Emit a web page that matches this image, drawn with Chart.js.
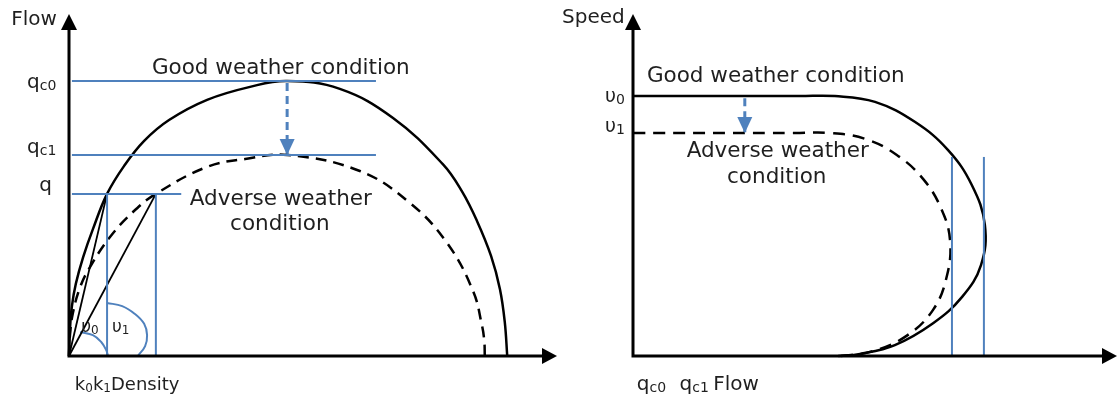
<!DOCTYPE html>
<html>
<head>
<meta charset="utf-8">
<script src="https://cdn.jsdelivr.net/npm/chart.js@4/dist/chart.umd.min.js"></script>
<style>
    html, body { margin: 0; padding: 0; background: #fff; }
    #wrap { position: relative; width: 1119px; height: 398px; }
    canvas { position: absolute; top: 0; }
</style>
</head>
<body>
<div id="wrap">
    <canvas id="flow-density-chart" width="560" height="398" style="left:0"></canvas>
    <canvas id="speed-flow-chart" width="559" height="398" style="left:560px"></canvas>
</div>
<script>
// flow - density diagram (values in % of axis length)
const flowLevels = [80.4, 58.8, 47.4]          // qc0, qc1, q
const flowLevelEnds = [62.9, 62.9, 23.0]
const densityLevels = [7.8, 17.8]              // k0, k1

const goodDensity = [0, 0.2, 0.6, 1.4, 2.9, 4.9, 7.8, 11.3, 15.4, 20.5, 28.3, 37.1, 44.7, 55.5, 66.4, 76.6, 80.5, 83.6, 86.5, 88.3, 89.3, 89.8]
const goodFlow = [0, 7.9, 14.6, 21.1, 28.9, 37.1, 47.4, 55.6, 62.9, 69.0, 74.9, 78.7, 80.4, 78.1, 69.6, 56.1, 48.2, 39.5, 29.2, 19.6, 9.9, 0]

const adverseDensity = [0, 0.2, 0.8, 2.3, 4.3, 8.4, 13.1, 17.8, 28.3, 36.1, 44.7, 59.6, 69.9, 77.5, 82.8, 84.6, 85.1, 85.2]
const adverseFlow = [0, 6.1, 12.6, 20.2, 26.0, 34.8, 42.1, 47.4, 55.3, 57.6, 58.8, 54.1, 44.7, 33.0, 19.0, 9.1, 4.4, 0]

const angle0Density = [2.3, 4.9, 6.6, 7.6, 8.0]
const angle0Flow = [7.0, 6.1, 4.1, 1.8, 0]
const angle1Density = [7.8, 10.9, 13.5, 15.4, 16.0, 15.6, 14.1]
const angle1Flow = [15.5, 14.6, 12.3, 9.4, 6.1, 2.9, 0]

const dropDensity = 44.7

// speed - flow diagram
const speedLevels = [76.0, 65.2]               // u0, u1
const capacityFlows = [65.9, 72.5]
const capacityTop = 58.2

const goodSpeedFlow = [0, 34.5, 41.7, 50.0, 58.3, 65.1, 70.0, 72.7, 71.9, 68.0, 62.0, 54.1, 46.9, 42.4]
const goodSpeed = [76.0, 76.0, 76.0, 74.3, 68.4, 60.2, 50.0, 38.3, 26.6, 17.3, 9.6, 3.2, 0.6, 0]

const adverseSpeedFlow = [0, 33.5, 40.7, 47.9, 54.5, 60.1, 63.8, 65.5, 64.9, 62.0, 56.2, 49.0, 42.8]
const adverseSpeed = [65.2, 65.2, 65.2, 63.5, 58.8, 51.5, 42.7, 33.9, 23.7, 13.5, 5.6, 1.2, 0]

const dropFlow = 23.1

const BLUE = '#4f81bd'
const TEXT = '#1f1f1f'
const FONT = "'DejaVu Sans'"

const points = (xs, ys) => xs.map((v, i) => ({ x: v, y: ys[i] }))

const lineSet = (xs, ys, style) => ({
    data: points(xs, ys),
    clip: false,
    fill: false,
    pointRadius: 0,
    tension: 0,
    borderCapStyle: 'butt',
    ...style
})

const blueLine = { borderColor: BLUE, borderWidth: 2 }
const solidCurve = { borderColor: '#000', borderWidth: 2.5, tension: 0.4 }
const dashedCurve = { borderColor: '#000', borderWidth: 2.5, tension: 0.4, borderDash: [11, 7] }
const dropArrow = { borderColor: BLUE, backgroundColor: BLUE, borderWidth: 3, borderDash: [8, 5], arrowHead: true }

const drawParts = (ctx, parts, x, y, size, subSize, align) => {
    const widths = parts.map(([text, sub]) => {
        ctx.font = `${sub ? subSize : size}px ${FONT}`
        return ctx.measureText(text).width
    })
    const total = widths.reduce((t, w) => t + w, 0)
    let left = align === 'center' ? x - total / 2 : align === 'right' ? x - total : x

    parts.forEach(([text, sub], i) => {
        ctx.font = `${sub ? subSize : size}px ${FONT}`
        ctx.fillText(text, left, sub ? y + 2 : y)
        left += widths[i]
    })
}

const sketchPlugin = {
    id: 'sketch',
    afterDatasetsDraw(chart, args, opts) {
        const { ctx, chartArea: { left, right, top, bottom }, scales: { x, y } } = chart
        ctx.save()

        // axes with arrow heads
        ctx.strokeStyle = '#000'
        ctx.fillStyle = '#000'
        ctx.lineWidth = 3
        ctx.setLineDash([])
        ctx.beginPath()
        ctx.moveTo(left, top + 14)
        ctx.lineTo(left, bottom)
        ctx.lineTo(right - 14, bottom)
        ctx.stroke()

        ctx.beginPath()
        ctx.moveTo(left, top)
        ctx.lineTo(left - 8, top + 16)
        ctx.lineTo(left + 8, top + 16)
        ctx.closePath()
        ctx.fill()

        ctx.beginPath()
        ctx.moveTo(right, bottom)
        ctx.lineTo(right - 15, bottom - 8)
        ctx.lineTo(right - 15, bottom + 8)
        ctx.closePath()
        ctx.fill()

        // arrow heads at the end of flagged datasets
        chart.data.datasets.forEach((ds, i) => {
            if (!ds.arrowHead) {
                return
            }
            const pts = chart.getDatasetMeta(i).data
            const a = pts[pts.length - 2]
            const b = pts[pts.length - 1]
            const ang = Math.atan2(b.y - a.y, b.x - a.x)
            ctx.fillStyle = ds.borderColor
            ctx.beginPath()
            ctx.moveTo(b.x, b.y)
            ctx.lineTo(b.x - 16 * Math.cos(ang) + 7.5 * Math.sin(ang), b.y - 16 * Math.sin(ang) - 7.5 * Math.cos(ang))
            ctx.lineTo(b.x - 16 * Math.cos(ang) - 7.5 * Math.sin(ang), b.y - 16 * Math.sin(ang) + 7.5 * Math.cos(ang))
            ctx.closePath()
            ctx.fill()
        })

        // texts
        ctx.fillStyle = TEXT
        ctx.textBaseline = 'alphabetic'
        opts.labels.forEach(l => drawParts(ctx, l.parts, x.getPixelForValue(l.x), y.getPixelForValue(l.y), l.size, l.subSize || 14, l.align))

        ctx.restore()
    }
}

const getDiagram = (selector, padding, datasets, labels) => new Chart(document.querySelector(`#${selector}-chart`), {
    type: 'line',
    data: { datasets },
    options: {
        responsive: false,
        animation: false,
        events: [],
        layout: { padding },
        plugins: {
            legend: { display: false },
            tooltip: { enabled: false },
            sketch: { labels }
        },
        scales: {
            x: { type: 'linear', min: 0, max: 100, display: false },
            y: { type: 'linear', min: 0, max: 100, display: false }
        }
    },
    plugins: [sketchPlugin]
})

const flowDensityDatasets = [
    ...flowLevels.map((q, i) => lineSet([0.6, flowLevelEnds[i]], [q, q], blueLine)),
    ...densityLevels.map(k => lineSet([k, k], [0, flowLevels[2]], blueLine)),
    lineSet(goodDensity, goodFlow, solidCurve),
    lineSet(adverseDensity, adverseFlow, dashedCurve),
    ...densityLevels.map(k => lineSet([0, k], [0, flowLevels[2]], { borderColor: '#000', borderWidth: 1.8 })),
    lineSet(angle0Density, angle0Flow, { ...blueLine, tension: 0.4 }),
    lineSet(angle1Density, angle1Flow, { ...blueLine, tension: 0.4 }),
    lineSet([dropDensity, dropDensity], [flowLevels[0] - 0.6, flowLevels[1]], dropArrow)
]

const flowDensityLabels = [
    { x: -2.5, y: 96.8, parts: [['Flow', 0]], size: 20, align: 'right' },
    { x: -8.6, y: 78.4, parts: [['q', 0], ['c0', 1]], size: 20 },
    { x: -8.6, y: 59.4, parts: [['q', 0], ['c1', 1]], size: 20 },
    { x: -6.1, y: 48.2, parts: [['q', 0]], size: 20 },
    { x: 1.2, y: -9.9, parts: [['k', 0], ['0', 1], ['k', 0], ['1', 1], ['Density', 0]], size: 18, subSize: 12 },
    { x: 2.5, y: 7.0, parts: [['υ', 0], ['0', 1]], size: 17, subSize: 12 },
    { x: 8.8, y: 7.0, parts: [['υ', 0], ['1', 1]], size: 17, subSize: 12 },
    { x: 43.4, y: 82.5, parts: [['Good weather condition', 0]], size: 21.5, align: 'center' },
    { x: 43.4, y: 44.2, parts: [['Adverse weather', 0]], size: 21.5, align: 'center' },
    { x: 43.2, y: 36.8, parts: [['condition', 0]], size: 21.5, align: 'center' }
]

const speedFlowDatasets = [
    ...capacityFlows.map(q => lineSet([q, q], [0, capacityTop], blueLine)),
    lineSet(goodSpeedFlow, goodSpeed, solidCurve),
    lineSet(adverseSpeedFlow, adverseSpeed, { ...dashedCurve, borderDash: [12, 8] }),
    lineSet([dropFlow, dropFlow], [speedLevels[0] - 0.6, speedLevels[1]], dropArrow)
]

const speedFlowLabels = [
    { x: -1.7, y: 97.4, parts: [['Speed', 0]], size: 20, align: 'right' },
    { x: -5.8, y: 74.3, parts: [['υ', 0], ['0', 1]], size: 19 },
    { x: -5.8, y: 65.5, parts: [['υ', 0], ['1', 1]], size: 19 },
    { x: 29.5, y: 80.1, parts: [['Good weather condition', 0]], size: 21.5, align: 'center' },
    { x: 29.9, y: 58.2, parts: [['Adverse weather', 0]], size: 21.5, align: 'center' },
    { x: 29.7, y: 50.6, parts: [['condition', 0]], size: 21.5, align: 'center' },
    { x: 0.8, y: -9.9, parts: [['q', 0], ['c0   ', 1], ['q', 0], ['c1 ', 1], ['Flow', 0]], size: 20 }
]

getDiagram('flow-density', { left: 69, right: 3, top: 14, bottom: 42 }, flowDensityDatasets, flowDensityLabels)
getDiagram('speed-flow', { left: 73, right: 2, top: 14, bottom: 42 }, speedFlowDatasets, speedFlowLabels)
</script>
</body>
</html>
